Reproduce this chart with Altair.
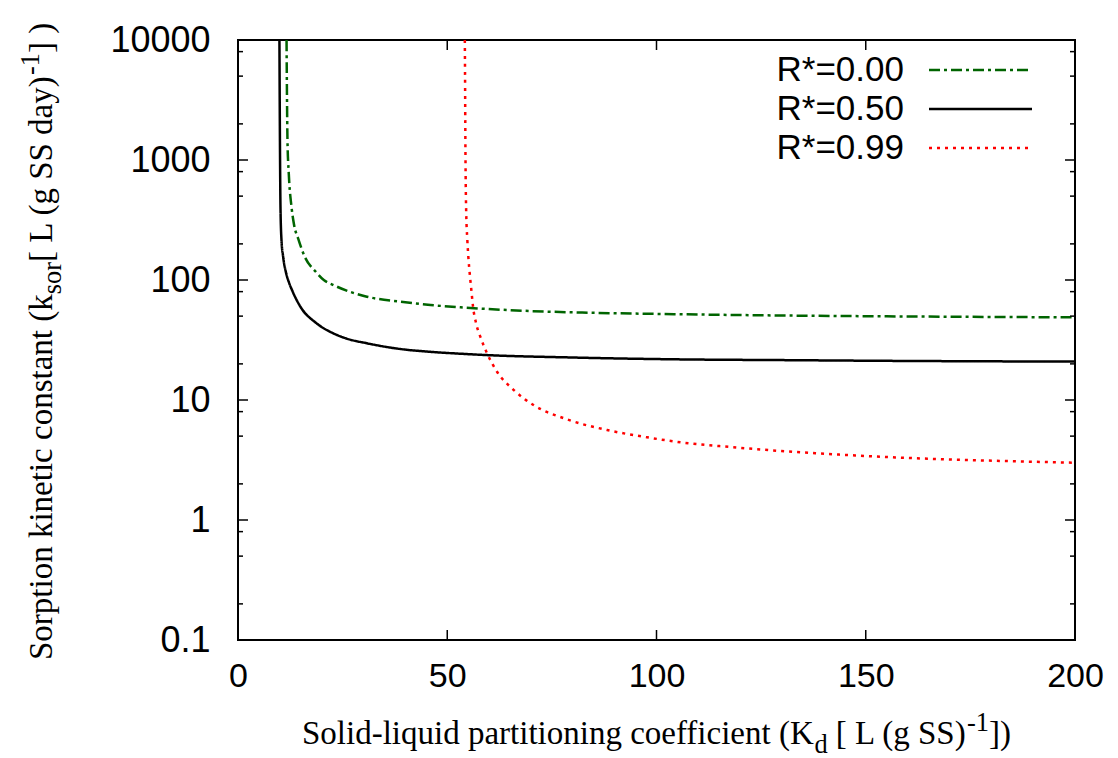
import altair as alt
import pandas as pd

# ---------------- data ----------------
series = ["R*=0.00", "R*=0.50", "R*=0.99"]

kd_000 = [11.6, 11.7, 11.82, 12.13, 12.78, 13.33, 14.5, 15.96, 18.7, 20.5, 22.8,
          30.8, 38.8, 46.0, 53.2, 70.0, 85.0, 106.0, 130.0, 155.0, 180.0, 200.0]
k_000 = [10000, 3500, 1470, 774, 408, 297, 215, 156, 116, 100, 90.8,
         72.6, 65.9, 61.9, 59.2, 55.1, 53.3, 51.8, 50.6, 49.8, 49.2, 48.9]

kd_050 = [9.9, 9.97, 10.05, 10.15, 10.39, 10.79, 11.5, 12.2, 12.9, 14.9, 18.8, 22.8,
          25.7, 30.8, 38.8, 46.0, 53.2, 58.0, 80.0, 105.7, 130.0, 155.0, 180.0, 200.0]
k_050 = [10000, 3000, 1000, 408, 215, 156, 114, 95, 82.5, 60, 43.5, 35.9,
         32.7, 29.7, 26.6, 25.2, 24.3, 23.8, 22.6, 21.8, 21.5, 21.2, 21.0, 20.9]

kd_099 = [54.2, 54.25, 54.33, 54.5, 54.8, 55.04, 55.36, 55.76, 56.16, 56.9, 57.9, 59.5, 61.9,
          65.9, 70.6, 78.6, 88.2, 97.7, 106.0, 118.0, 129.6, 141.0, 153.4, 165.0, 177.3,
          188.0, 200.0]
k_099 = [10000, 5270, 1468, 408, 215, 156, 114, 82.5, 60, 43.5, 33.7, 24.5, 17.2,
         12.1, 9.08, 6.9, 5.62, 4.89, 4.43, 4.05, 3.76, 3.55, 3.37, 3.24, 3.14,
         3.07, 3.0]

x_ticks = [0, 50, 100, 150, 200]
y_major = [0.1, 1, 10, 100, 1000, 10000]
y_minor = [0.2, 0.5, 0.8, 2, 5, 8, 20, 50, 80, 200, 500, 800, 2000, 5000, 8000]

# ---------------- styles ----------------
colors = ["#006400", "#000000", "#ff0000"]
dashes = [[11, 4, 3, 4], [1, 0], [3, 5]]

W, H = 837, 600
SANS = "Liberation Sans"
SERIF = "Liberation Serif"

rows = []
for name, xs_, ys_ in zip(series, [kd_000, kd_050, kd_099], [k_000, k_050, k_099]):
    for i, (a, b) in enumerate(zip(xs_, ys_)):
        rows.append({"series": name, "kd": a, "k": b, "i": i})
df = pd.DataFrame(rows)

xscale = alt.Scale(domain=[0, 200], nice=False, zero=False)
yscale = alt.Scale(type="log", domain=[0.1, 10000], nice=False)

x_axis = alt.Axis(values=x_ticks, format="d", title=None, grid=False, domain=False,
                  ticks=False, tickSize=0, labelFont=SANS, labelFontSize=34,
                  labelColor="black", labelPadding=19, labelFlush=False,
                  labelOverlap=False)
y_axis = alt.Axis(values=y_major, format="~g", title=None, grid=False, domain=False,
                  ticks=False, tickSize=0, labelFont=SANS, labelFontSize=36,
                  labelColor="black", labelPadding=28, labelFlush=False,
                  labelOverlap=False)

lines = alt.Chart(df).mark_line(strokeWidth=2.5, interpolate="monotone", clip=True).encode(
    x=alt.X("kd:Q", scale=xscale, axis=x_axis),
    y=alt.Y("k:Q", scale=yscale, axis=y_axis),
    color=alt.Color("series:N", scale=alt.Scale(domain=series, range=colors), legend=None),
    strokeDash=alt.StrokeDash("series:N", scale=alt.Scale(domain=series, range=dashes), legend=None),
    order=alt.Order("i:Q"),
)


def yticks(vals, x0, x1):
    return alt.Chart(pd.DataFrame({"v": vals})).mark_rule(color="black", strokeWidth=1.5).encode(
        y=alt.Y("v:Q", scale=yscale, axis=y_axis), x=alt.value(x0), x2=alt.value(x1))


def xticks(vals, y0, y1):
    return alt.Chart(pd.DataFrame({"v": vals})).mark_rule(color="black", strokeWidth=1.5).encode(
        x=alt.X("v:Q", scale=xscale, axis=x_axis), y=alt.value(y0), y2=alt.value(y1))


tick_layers = [
    yticks(y_major, 0, 10), yticks(y_major, W, W - 10),
    yticks(y_minor, 0, 5), yticks(y_minor, W, W - 5),
    xticks(x_ticks[1:-1], H, H - 10), xticks(x_ticks[1:-1], 0, 10),
]

# ---------------- legend (labels left of samples, like gnuplot) ----------------
legend_layers = []
leg_y = [30, 69, 108]
for name, col, dsh, ly in zip(series, colors, dashes, leg_y):
    legend_layers.append(
        alt.Chart(pd.DataFrame({"t": [name]})).mark_text(
            align="right", baseline="middle", font=SANS, fontSize=35, color="black"
        ).encode(text="t:N", x=alt.value(666), y=alt.value(ly))
    )
    legend_layers.append(
        alt.Chart(pd.DataFrame({"t": [name]})).mark_rule(
            color=col, strokeWidth=2.5, strokeDash=dsh
        ).encode(x=alt.value(691), x2=alt.value(794), y=alt.value(ly))
    )

# ---------------- axis titles with sub/superscripts ----------------
TW = {" ": .25, "(": .333, ")": .333, "[": .333, "]": .333, "-": .333, "1": .5,
      "K": .722, "L": .611, "S": .556, "a": .444, "c": .444, "d": .5, "e": .444,
      "f": .333, "g": .5, "i": .278, "k": .5, "l": .278, "n": .5, "o": .5, "p": .5,
      "q": .5, "r": .333, "s": .389, "t": .278, "u": .5, "y": .5}


def tw(s, f):
    return sum(TW.get(c, .5) for c in s) * f


TF = 33
SF = 0.8 * TF
title_layers = []

# x title
xt_parts = [("Solid-liquid partitioning coefficient (K", "n"), ("d", "sub"),
            (" [ L (g SS)", "n"), ("-1", "sup"), ("])", "n")]
cur = 64
base = 704
for txt, kind in xt_parts:
    f = TF if kind == "n" else SF
    lead = len(txt) - len(txt.lstrip(" "))
    px = cur + tw(" " * lead, f)
    py = base + (9 if kind == "sub" else (-13 if kind == "sup" else 0))
    title_layers.append(
        alt.Chart(pd.DataFrame({"t": [txt.strip()]})).mark_text(
            align="left", baseline="alphabetic", font=SERIF, fontSize=f, color="black"
        ).encode(text="t:N", x=alt.value(px), y=alt.value(py))
    )
    cur += tw(txt, f)

# y title (rotated)
yt_parts = [("Sorption kinetic constant (k", "n"), ("sor", "sub"),
            ("[ L (g SS day)", "n"), ("-1", "sup"), ("] )", "n")]
cur = 620
base = -186
for txt, kind in yt_parts:
    f = TF if kind == "n" else SF
    px = base + (9 if kind == "sub" else (-13 if kind == "sup" else 0))
    title_layers.append(
        alt.Chart(pd.DataFrame({"t": [txt]})).mark_text(
            align="left", baseline="alphabetic", font=SERIF, fontSize=f, color="black",
            angle=270
        ).encode(text="t:N", x=alt.value(px), y=alt.value(cur))
    )
    cur -= tw(txt, f)

chart = alt.layer(lines, *tick_layers, *legend_layers, *title_layers).properties(
    width=W, height=H,
    padding={"left": 238, "top": 40, "right": 43, "bottom": 118},
    autosize=alt.AutoSizeParams(type="none"),
    background="white",
).configure_view(stroke="black", strokeWidth=2)

chart.save("out.html", embed_options={"renderer": "svg", "actions": False})
